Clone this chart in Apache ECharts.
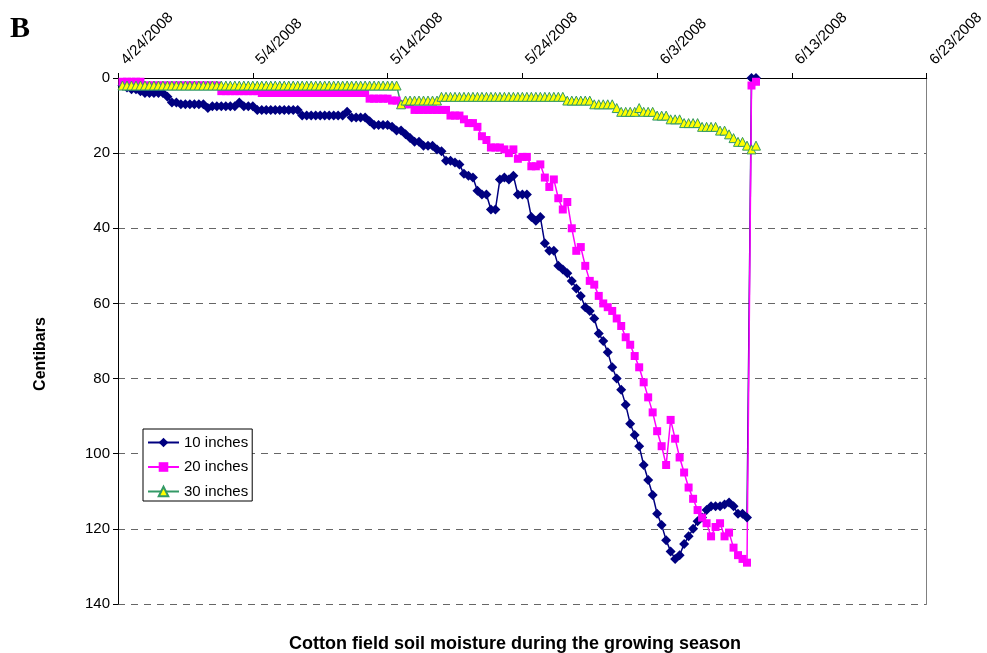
<!DOCTYPE html>
<html>
<head>
<meta charset="utf-8">
<script src="https://cdn.jsdelivr.net/npm/echarts@6/dist/echarts.min.js"></script>
<style>
html,body{margin:0;padding:0;background:#fff;}
#chart{width:987px;height:653px;}
</style>
</head>
<body>
<div id="chart"></div>
<script>
// Tick labels of the (top) date axis, one every 10 days
const tickLabels = ['4/24/2008','5/4/2008','5/14/2008','5/24/2008','6/3/2008','6/13/2008','6/23/2008'];
const seriesNames = ['10 inches','20 inches','30 inches'];

// Readings every 8 hours, first reading 4/24/2008 08:00 (centibars)
const inches10 = [
  2, 2.5, 3, 3, 3.5, 4, 4, 4, 4, 4,
  5, 6.5, 6.5, 7, 7, 7, 7, 7, 7, 8,
  7.5, 7.5, 7.5, 7.5, 7.5, 7.5, 6.5, 7.5, 7.5, 7.5,
  8.5, 8.5, 8.5, 8.5, 8.5, 8.5, 8.5, 8.5, 8.5, 8.5,
  10, 10, 10, 10, 10, 10, 10, 10, 10, 10,
  9, 10.5, 10.5, 10.5, 10.5, 11.5, 12.5, 12.5, 12.5, 12.5,
  13, 14, 14, 15, 16, 17, 17, 18, 18, 18,
  19, 19.5, 22, 22, 22.5, 23, 25.5, 26, 26.5, 30,
  31, 31, 35, 35, 27, 26.5, 27, 26, 31, 31,
  31, 37, 38, 37, 44, 46, 46, 50, 51, 52,
  54, 56, 58, 61, 62, 64, 68, 70, 73, 77,
  80, 83, 87, 92, 95, 98, 103, 107, 111, 116,
  119, 123, 126, 128, 127, 124, 122, 120, 118, 117,
  115, 114, 114, 114, 113.5, 113, 114, 116, 116, 117,
  0, 0
];
const inches20 = [
  1, 1, 1, 1, 1, 2, 2, 2, 2, 2,
  2, 2, 2, 2, 2, 2, 2, 2, 2, 2,
  2, 2, 3.5, 3.5, 3.5, 3.5, 3.5, 3.5, 3.5, 3.5,
  3.5, 4, 4, 4, 4, 4, 4, 4, 4, 4,
  4, 4, 4, 4, 4, 4, 4, 4, 4, 4,
  4, 4, 4, 4, 4, 5.5, 5.5, 5.5, 5.5, 5.5,
  6, 6, 7, 7, 7, 8.5, 8.5, 8.5, 8.5, 8.5,
  8.5, 8.5, 8.5, 10, 10, 10, 11, 12, 12, 13,
  15.5, 16.5, 18.5, 18.5, 18.5, 19, 20, 19, 21.5, 21,
  21, 23.5, 23.5, 23, 26.5, 29, 27, 32, 35, 33,
  40, 46, 45, 50, 54, 55, 58, 60, 61, 62,
  64, 66, 69, 71, 74, 77, 81, 85, 89, 94,
  98, 103, 91, 96, 101, 105, 109, 112, 115, 117,
  118.5, 122, 119.5, 118.5, 122, 121, 125, 127, 128, 129,
  2, 1
];
const inches30 = [
  2, 2, 2, 2, 2, 2, 2, 2, 2, 2,
  2, 2, 2, 2, 2, 2, 2, 2, 2, 2,
  2, 2, 2, 2, 2, 2, 2, 2, 2, 2,
  2, 2, 2, 2, 2, 2, 2, 2, 2, 2,
  2, 2, 2, 2, 2, 2, 2, 2, 2, 2,
  2, 2, 2, 2, 2, 2, 2, 2, 2, 2,
  2, 2, 7, 6, 6, 6, 6, 6, 6, 6,
  6, 5, 5, 5, 5, 5, 5, 5, 5, 5,
  5, 5, 5, 5, 5, 5, 5, 5, 5, 5,
  5, 5, 5, 5, 5, 5, 5, 5, 5, 6,
  6, 6, 6, 6, 6, 7, 7, 7, 7, 7,
  8, 9, 9, 9, 9, 8, 9, 9, 9, 10,
  10, 10, 11, 11, 11, 12, 12, 12, 12, 13,
  13, 13, 13, 14, 14, 15, 16, 17, 17, 18,
  19, 18
];

// sample time in days after 4/24/2008 00:00 (one reading every 8 hours)
const sampleDays = inches10.map((_, i) => (i + 1) / 3);
const pairs = vals => vals.map((v, i) => [sampleDays[i], v]);

const FONT = 'Liberation Sans, Arial, sans-serif';
const chart = echarts.init(document.getElementById('chart'), null, {renderer: 'canvas'});
chart.setOption({
  animation: false,
  backgroundColor: '#fff',
  grid: {left: 118, right: 59, top: 78, bottom: 49, containLabel: false},
  legend: {
    orient: 'vertical', left: 143, top: 429,
    data: seriesNames,
    backgroundColor: '#fff', borderColor: '#000', borderWidth: 1,
    padding: [6, 4, 2, 4], itemWidth: 31, itemHeight: 12, itemGap: 9.5,
    textStyle: {fontFamily: FONT, fontSize: 15, color: '#000'}
  },
  xAxis: {
    type: 'value', position: 'top', min: 0, max: 60, interval: 10,
    axisLine: {show: true, onZero: false, lineStyle: {color: '#000', width: 1}},
    axisTick: {show: true, length: 5, lineStyle: {color: '#000'}},
    axisLabel: {
      rotate: -45, margin: 10, align: 'left', verticalAlign: 'middle',
      padding: [0, 0, 0, 8],
      fontFamily: FONT, fontSize: 15, color: '#000',
      formatter: v => tickLabels[Math.round(v / 10)]
    },
    splitLine: {show: false}
  },
  yAxis: [{
    type: 'value', inverse: true, min: 0, max: 140, interval: 20,
    axisLine: {show: true, lineStyle: {color: '#000', width: 1}},
    axisTick: {show: true, length: 5, lineStyle: {color: '#000'}},
    axisLabel: {margin: 8, fontFamily: FONT, fontSize: 15, color: '#000'},
    splitLine: {show: true, lineStyle: {color: '#666', width: 1, type: [7, 6]}}
  }, {
    type: 'value', inverse: true, min: 0, max: 140, interval: 20, position: 'right',
    axisLine: {show: true, lineStyle: {color: '#808080', width: 1}},
    axisTick: {show: false}, axisLabel: {show: false}, splitLine: {show: false}
  }],
  graphic: [
    {type: 'text', x: 10, y: 14, style: {text: 'B', font: 'bold 30px "Liberation Serif", "Times New Roman", serif', fill: '#000'}},
    {type: 'text', x: 41, y: 354, rotation: Math.PI / 2,
     style: {text: 'Centibars', font: 'bold 16px ' + FONT, fill: '#000', align: 'center', verticalAlign: 'middle', textAlign: 'center', textVerticalAlign: 'middle'}},
    {type: 'text', x: 515, y: 644,
     style: {text: 'Cotton field soil moisture during the growing season', font: 'bold 18px ' + FONT, fill: '#000', align: 'center', verticalAlign: 'middle', textAlign: 'center', textVerticalAlign: 'middle'}}
  ],
  series: [
    {
      name: seriesNames[0], type: 'line', data: pairs(inches10),
      symbol: 'diamond', symbolSize: 10, showAllSymbol: true,
      itemStyle: {color: '#000080'}, lineStyle: {color: '#000080', width: 1.5}
    },
    {
      name: seriesNames[1], type: 'line', data: pairs(inches20),
      symbol: 'rect', symbolSize: 8, showAllSymbol: true,
      itemStyle: {color: '#FF00FF'}, lineStyle: {color: '#FF00FF', width: 1.5}
    },
    {
      name: seriesNames[2], type: 'line', data: pairs(inches30),
      symbol: 'triangle', symbolSize: 9, showAllSymbol: true,
      itemStyle: {color: '#FFFF00', borderColor: '#339966', borderWidth: 1},
      lineStyle: {color: '#339966', width: 1.5}
    }
  ]
});
</script>
</body>
</html>
